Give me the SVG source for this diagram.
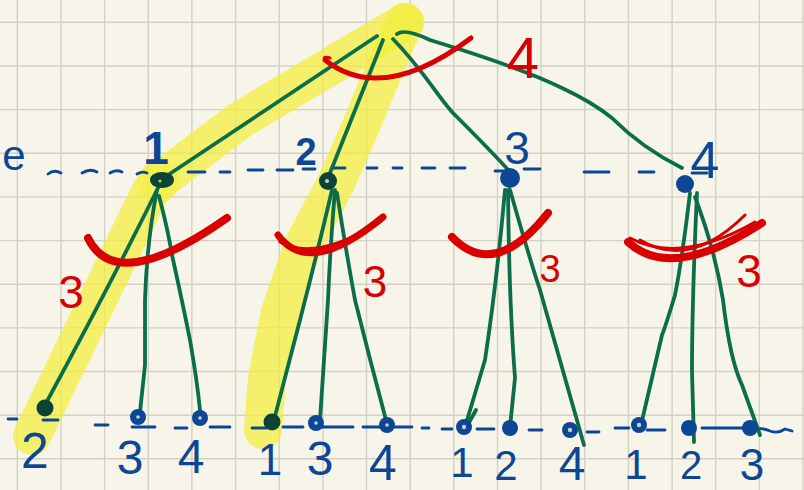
<svg xmlns="http://www.w3.org/2000/svg" width="804" height="490" viewBox="0 0 804 490">
<style>
.grid{stroke:#d3d1c4;stroke-width:1.4;fill:none}
.hl{stroke:#f2ee3c;stroke-opacity:0.72;fill:none;stroke-linecap:round;stroke-linejoin:round}
.edge{stroke:#0b6d4a;stroke-width:3.8;fill:none;stroke-linecap:round;stroke-linejoin:round}
.dash{stroke:#0d4694;stroke-width:2.8;fill:none;stroke-linecap:round}
.arc{stroke:#d80000;fill:none;stroke-linecap:round}
.blue{fill:#0d4694;font-family:"Liberation Sans",Arial,sans-serif;text-anchor:middle}
.red{fill:#d80000;font-family:"Liberation Sans",Arial,sans-serif;text-anchor:middle}
.dk{fill:#0b4436}
.bl{fill:#0d4694}
.hole{fill:#c9cfd8}
</style>
<rect width="804" height="490" fill="#f7f5e9"/>
<g id="grid" class="grid">
<path d="M17.3,0V490M61,0V490M104.6,0V490M148.3,0V490M191.9,0V490M235.6,0V490M279.2,0V490M322.9,0V490M366.5,0V490M410.2,0V490M453.8,0V490M497.5,0V490M541.1,0V490M584.8,0V490M628.4,0V490M672.1,0V490M715.7,0V490M759.4,0V490M803,0V490"/>
<path d="M0,22.3H804M0,66H804M0,109.6H804M0,153.3H804M0,196.9H804M0,240.6H804M0,284.2H804M0,327.9H804M0,371.5H804M0,415.2H804M0,458.8H804"/>
</g>
<g id="highlight">
<path class="hl" stroke-width="38" d="M405,22 L240,120 L158,182 L150,192 L32,436"/>
<path class="hl" stroke-width="38" d="M405,22 L380,80 L358,133 L335,185 L303,245 L280,312 L267,378 L263,430"/>
<circle cx="158" cy="182" r="21" fill="#f2ee3c" fill-opacity="0.5"/>
</g>
<g id="levels">
<text class="blue" x="14" y="170" font-size="42">e</text>
<g class="dash">
<path d="M48,174 Q54,169 61,173"/><path d="M82,173 Q90,168 97,172"/><path d="M110,173 Q116,169 122,172"/><path d="M137,174 Q142,171 147,173"/>
<path d="M188,172H205M220,172H230M248,170H263M277,170H293M303,169H315M333,168H345M367,168H377M393,168H402M422,168H435M450,168H465M495,171H507M524,169H540M584,172H609M639,172H654M692,173H707"/>
<path d="M8,419H17M43,420H58M95,425H108M132,427H155M175,428H187M210,427H230M252,428H267M283,427H303M320,427H353M363,427H402M402,427H412M422,428H429M442,429H452M477,429H494M529,430H542M587,432H599M615,428H629M647,430H665M702,428H749"/>
<path d="M755,430 Q762,427 770,431 Q778,434 785,429 L792,431"/>
</g>
</g>
<g id="connectors">
<path class="edge" d="M377,36 L165,177"/>
<path class="edge" d="M383,40 L328,178"/>
<path class="edge" d="M393,39 C425,72 440,100 455,115 S495,155 510,172"/>
<path class="edge" d="M397,34 Q405,28 430,40 L462,50 Q530,72 562,88 Q592,102 612,118 Q642,148 682,168"/>
<path class="edge" d="M158,188 Q110,285 45,405"/>
<path class="edge" d="M157,190 Q147,240 145,300 L145,365 L140,412"/>
<path class="edge" d="M159,196 Q168,230 172,255 Q182,300 190,340 Q197,380 200,410"/>
<path class="edge" d="M332,190 Q318,250 300,320 L274,420"/>
<path class="edge" d="M335,190 Q330,250 328,300 L320,420"/>
<path class="edge" d="M337,193 Q345,245 355,300 Q370,360 386,420"/>
<path class="edge" d="M505,190 Q497,280 485,360 L465,427"/>
<path class="edge" d="M476,410 L466,428"/>
<path class="edge" d="M508,190 Q509,300 515,378 L510,427"/>
<path class="edge" d="M510,190 Q530,260 540,290 Q560,360 584,445"/>
<path class="edge" d="M690,193 Q682,260 675,295 Q666,325 662,335 L641,425"/>
<path class="edge" d="M697,193 Q692,300 692,372 L694,442"/>
<path class="edge" d="M695,197 Q715,250 723,300 Q730,360 742,385 L760,435"/>
</g>
<g id="annotations">
<path class="arc" stroke-width="5" d="M325,60 Q382,105 471,38"/>
<path class="arc" stroke-width="3" d="M325,60 Q322,56 330,58"/>
<text class="red" x="523" y="78" font-size="58">4</text>
<path class="arc" stroke-width="8" d="M88,238 Q116,296 227,218"/>
<path class="arc" stroke-width="7" d="M278,235 Q309,278 383,217"/>
<path class="arc" stroke-width="3" d="M280,242 Q315,262 380,222"/>
<path class="arc" stroke-width="8" d="M452,237 Q494,281 548,213"/>
<path class="arc" stroke-width="8" d="M628,242 Q671,282 762,223"/>
<path class="arc" stroke-width="3" d="M640,240 Q690,270 745,215"/>
<path class="arc" stroke-width="3" d="M630,238 Q680,265 755,222"/>
<text class="red" x="71" y="308" font-size="46">3</text>
<text class="red" x="375" y="297" font-size="44">3</text>
<text class="red" x="550" y="282" font-size="38">3</text>
<text class="red" x="749" y="287" font-size="46">3</text>
</g>
<g id="n1"><ellipse class="dk" cx="162" cy="180" rx="12" ry="8"/><circle fill="#c9c76a" cx="160" cy="181" r="1.6"/><text class="blue" x="156" y="164" font-size="46" font-weight="bold">1</text></g>
<g id="n2"><circle class="dk" cx="328" cy="181" r="9"/><circle class="hole" cx="327" cy="181" r="2"/><text class="blue" x="306" y="165" font-size="38" font-weight="bold">2</text></g>
<g id="n3"><circle class="bl" cx="510" cy="178" r="10"/><text class="blue" x="517" y="164" font-size="46">3</text></g>
<g id="n4"><circle class="bl" cx="685" cy="184" r="9"/><text class="blue" x="705" y="178" font-size="52">4</text></g>
<g id="n1-2"><circle class="dk" cx="45" cy="408" r="8.5"/><text class="blue" x="35" y="468" font-size="50">2</text></g>
<g id="n1-3"><circle class="bl" cx="138" cy="417" r="8"/><circle class="hole" cx="138" cy="417" r="1.8"/><text class="blue" x="130" y="474" font-size="48">3</text></g>
<g id="n1-4"><circle class="bl" cx="200" cy="418" r="8"/><circle class="hole" cx="200" cy="418" r="1.8"/><text class="blue" x="191" y="473" font-size="48">4</text></g>
<g id="n2-1"><circle class="dk" cx="272" cy="422" r="8.5"/><text class="blue" x="270" y="475" font-size="44">1</text></g>
<g id="n2-3"><circle class="bl" cx="316" cy="423" r="8"/><circle class="hole" cx="316" cy="423" r="1.8"/><text class="blue" x="320" y="475" font-size="48">3</text></g>
<g id="n2-4"><circle class="bl" cx="387" cy="425" r="8"/><circle class="hole" cx="387" cy="425" r="1.8"/><text class="blue" x="383" y="480" font-size="50">4</text></g>
<g id="n3-1"><circle class="bl" cx="464" cy="427" r="8"/><circle class="hole" cx="464" cy="427" r="2.2"/><text class="blue" x="462" y="477" font-size="42">1</text></g>
<g id="n3-2"><circle class="bl" cx="510" cy="428" r="8"/><text class="blue" x="506" y="480" font-size="42">2</text></g>
<g id="n3-4"><circle class="bl" cx="570" cy="430" r="8"/><circle class="hole" cx="570" cy="430" r="2.2"/><text class="blue" x="572" y="480" font-size="48">4</text></g>
<g id="n4-1"><circle class="bl" cx="639" cy="425" r="8"/><circle class="hole" cx="639" cy="425" r="2.2"/><text class="blue" x="636" y="479" font-size="42">1</text></g>
<g id="n4-2"><circle class="bl" cx="689" cy="428" r="8"/><text class="blue" x="691" y="479" font-size="40">2</text></g>
<g id="n4-3"><circle class="bl" cx="750" cy="428" r="8"/><text class="blue" x="752" y="480" font-size="44">3</text></g>
</svg>
